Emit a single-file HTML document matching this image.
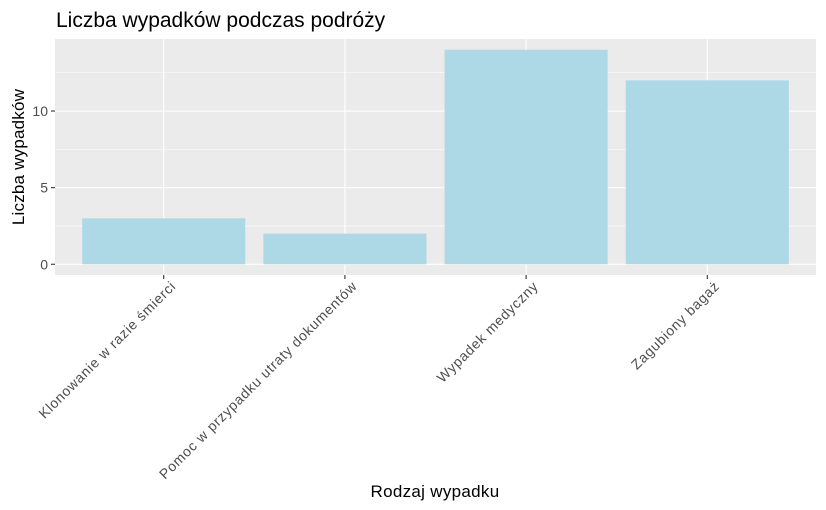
<!DOCTYPE html>
<html><head><meta charset="utf-8"><style>
body{margin:0;background:#fff}
svg{display:block;font-family:"Liberation Sans",Arial,sans-serif}
</style></head><body>
<svg id="chart" width="826" height="510">
<text x="56" y="27" font-size="21" fill="#000">Liczba wypadków podczas podróży</text>
<rect x="55" y="39" width="761" height="236" fill="#EBEBEB"/>
<g id="grid"></g><g id="bars"></g><g id="axes"></g>
<text x="435" y="497" font-size="17" letter-spacing="0.3" text-anchor="middle" fill="#000">Rodzaj wypadku</text>
<text transform="translate(24,157) rotate(-90)" font-size="17" letter-spacing="0.2" text-anchor="middle" fill="#000">Liczba wypadków</text>
</svg>
<script>
const categories=["Klonowanie w razie śmierci","Pomoc w przypadku utraty dokumentów","Wypadek medyczny","Zagubiony bagaż"];
const values=[3,2,14,12];
const yTicks=[0,5,10];
const ns="http://www.w3.org/2000/svg";
const L=55,R=816,T=39,B=275;
const ymin=-0.7,ymax=14.7;
function y(v){return B-(v-ymin)/(ymax-ymin)*(B-T);}
const step=(R-L)/(categories.length+0.2);
function x(i){return L+step*(i+0.6);}
function mk(tag,a,p){const e=document.createElementNS(ns,tag);for(const k in a)e.setAttribute(k,a[k]);p.appendChild(e);return e;}
const grid=document.getElementById('grid'),bars=document.getElementById('bars'),axes=document.getElementById('axes');
for(let t=0;t<=ymax;t+=2.5){
 const g=mk('line',{x1:L,x2:R,y1:y(t),y2:y(t),stroke:'#fff','stroke-width':(t%5===0)?1.1:0.55},grid);
 
 
}
categories.forEach((c,i)=>{
 const g=mk('line',{x1:x(i),x2:x(i),y1:T,y2:B,stroke:'#fff','stroke-width':1.1},grid);
 
 
 const bw=step*0.9;
 const b=mk('rect',{x:x(i)-bw/2,y:y(values[i]),width:bw,height:y(0)-y(values[i]),fill:'#ADD8E6'},bars);
 
 
 const tk=mk('line',{x1:x(i),x2:x(i),y1:B,y2:B+4,stroke:'#333','stroke-width':1.1},axes);
 
 
 const tx=mk('text',{transform:`translate(${x(i)+13},${B+12}) rotate(-45)`,'text-anchor':'end','font-size':14,'letter-spacing':0.7,fill:'#4D4D4D'},axes);
 tx.textContent=c;
 
 
});
yTicks.forEach(t=>{
 const tk=mk('line',{x1:L-4,x2:L,y1:y(t),y2:y(t),stroke:'#333','stroke-width':1.1},axes);
 
 
 const tx=mk('text',{x:L-7,y:y(t)+5,'text-anchor':'end','font-size':14,fill:'#4D4D4D'},axes);
 tx.textContent=t;
 
 
});
</script>
</body></html>
